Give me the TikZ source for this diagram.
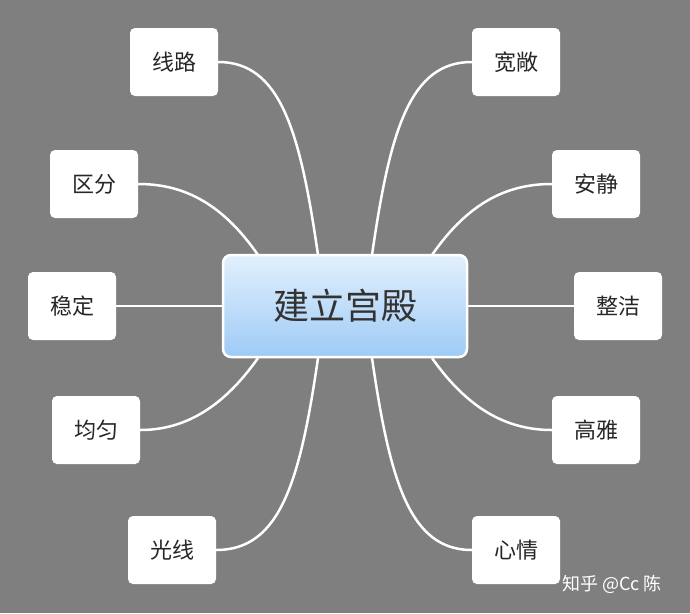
\documentclass[tikz,border=0pt]{standalone}
\usepackage{fontspec}
\newfontfamily\cjk{Noto Sans CJK SC}
\begin{document}
\begin{tikzpicture}[x=1pt,y=-1pt,
  leaf/.style={fill=white,rounded corners=5pt,minimum width=88pt,minimum height=68pt,font=\cjk\fontsize{22}{26}\selectfont,text=black!85},
  link/.style={white,line width=2.5pt}]
\fill[gray!100!black,fill={rgb,255:red,127;green,127;blue,127}] (0,0) rectangle (690,613);
\node[draw=white,line width=2.5pt,rounded corners=8pt,minimum width=244pt,minimum height=102pt,
  top color={rgb,255:red,226;green,240;blue,253},bottom color={rgb,255:red,158;green,203;blue,246},
  font=\cjk\fontsize{36}{42}\selectfont,text=black!80] (c) at (345,306) {建立宫殿};
\node[leaf] (a1) at (174,62) {线路};
\node[leaf] (a2) at (94,184) {区分};
\node[leaf] (a3) at (72,306) {稳定};
\node[leaf] (a4) at (96,430) {均匀};
\node[leaf] (a5) at (172,550) {光线};
\node[leaf] (b1) at (516,62) {宽敞};
\node[leaf] (b2) at (596,184) {安静};
\node[leaf] (b3) at (618,306) {整洁};
\node[leaf] (b4) at (596,430) {高雅};
\node[leaf] (b5) at (516,550) {心情};
\coordinate (p1) at (318,255); \coordinate (p2) at (258,255);
\coordinate (p4) at (258,358); \coordinate (p5) at (318,358);
\coordinate (q1) at (372,255); \coordinate (q2) at (432,255);
\coordinate (q4) at (432,358); \coordinate (q5) at (372,358);
\draw[link] (p1) .. controls (300,130) and (280,62) .. (a1.east);
\draw[link] (p2) .. controls (220,200) and (180,184) .. (a2.east);
\draw[link] (c.west) -- (a3.east);
\draw[link] (p4) .. controls (220,412) and (180,430) .. (a4.east);
\draw[link] (p5) .. controls (300,482) and (280,550) .. (a5.east);
\draw[link] (q1) .. controls (390,130) and (410,62) .. (b1.west);
\draw[link] (q2) .. controls (470,200) and (510,184) .. (b2.west);
\draw[link] (c.east) -- (b3.west);
\draw[link] (q4) .. controls (470,412) and (510,430) .. (b4.west);
\draw[link] (q5) .. controls (390,482) and (410,550) .. (b5.west);
\node[font=\cjk\fontsize{18}{22}\selectfont,text=white] (w) at (612,584) {知乎 @Cc 陈};
\end{tikzpicture}
\end{document}
